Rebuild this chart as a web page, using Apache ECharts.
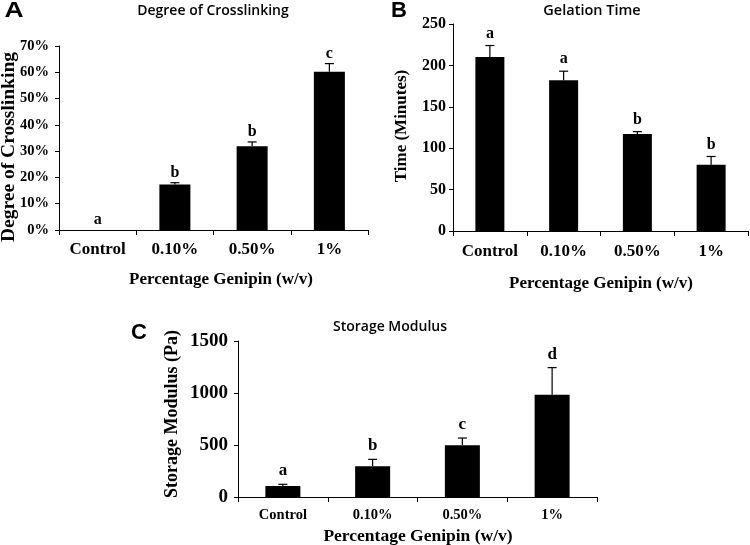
<!DOCTYPE html>
<html>
<head>
<meta charset="utf-8">
<script src="https://cdn.jsdelivr.net/npm/echarts@6/dist/echarts.min.js"></script>
<style>
html,body{margin:0;padding:0;background:#fff;}
#c{width:750px;height:545px;}
</style>
</head>
<body>
<div id="c"></div>
<script>
// ---- Data ----
const categories = ['Control', '0.10%', '0.50%', '1%'];

const crosslinkValues = [0, 17.3, 31.9, 60.2];
const crosslinkErrors = [0, 0.7, 1.6, 3.1];
const crosslinkLetters = ['a', 'b', 'b', 'c'];
const crosslinkTicks = { min: 0, max: 70, interval: 10 };

const gelationValues = [210, 182, 117, 80];
const gelationErrors = [14, 11, 3, 10];
const gelationLetters = ['a', 'a', 'b', 'b'];
const gelationTicks = { min: 0, max: 250, interval: 50 };

const modulusValues = [106, 295, 497, 984];
const modulusErrors = [16, 67, 70, 260];
const modulusLetters = ['a', 'b', 'c', 'd'];
const modulusTicks = { min: 0, max: 1500, interval: 500 };

// ---- Chart ----
const SERIF = '"Liberation Serif", "Times New Roman", serif';
const SANS = '"Open Sans", "Noto Sans", sans-serif';
const chart = echarts.init(document.getElementById('c'), null, { renderer: 'canvas' });

const grids = [
  { left: 59, top: 46, width: 309, height: 184 },
  { left: 453, top: 24, width: 295, height: 207 },
  { left: 238, top: 341, width: 359, height: 156 }
];

const panelCfg = [
  { vals: crosslinkValues, errs: crosslinkErrors, letters: crosslinkLetters, ticks: crosslinkTicks,
    fmt: (v) => v + '%', yFont: 14.5, yMargin: 10, xFont: 17, xMargin: 11, barW: 31, letterFont: 16, letterDist: 2 },
  { vals: gelationValues, errs: gelationErrors, letters: gelationLetters, ticks: gelationTicks,
    fmt: (v) => String(v), yFont: 16, yMargin: 7, xFont: 17, xMargin: 12, barW: 29, letterFont: 16, letterDist: 4 },
  { vals: modulusValues, errs: modulusErrors, letters: modulusLetters, ticks: modulusTicks,
    fmt: (v) => String(v), yFont: 19, yMargin: 10, xFont: 14.5, xMargin: 11, barW: 35, letterFont: 17, letterDist: 5 }
];

const xAxes = [], yAxes = [], series = [];
panelCfg.forEach((p, i) => {
  xAxes.push({
    type: 'category', gridIndex: i, data: categories, boundaryGap: true,
    axisLine: { lineStyle: { color: '#000', width: 1 } },
    axisTick: { show: true, length: 5, lineStyle: { color: '#000' } },
    axisLabel: { color: '#000', fontFamily: SERIF, fontWeight: 'bold', fontSize: p.xFont, margin: p.xMargin },
    splitLine: { show: false }
  });
  yAxes.push({
    type: 'value', gridIndex: i, min: p.ticks.min, max: p.ticks.max, interval: p.ticks.interval,
    axisLine: { show: true, lineStyle: { color: '#000', width: 1 } },
    axisTick: { show: true, length: 4, lineStyle: { color: '#000' } },
    axisLabel: { color: '#000', fontFamily: SERIF, fontWeight: 'bold', fontSize: p.yFont, margin: p.yMargin, formatter: p.fmt },
    splitLine: { show: false }
  });
  series.push({
    type: 'bar', xAxisIndex: i, yAxisIndex: i, data: p.vals, barWidth: p.barW,
    itemStyle: { color: '#000' }, silent: true, animation: false
  });
  series.push({
    type: 'custom', xAxisIndex: i, yAxisIndex: i, animation: false, silent: true,
    data: p.vals.map((v, k) => [k, v, v + p.errs[k]]),
    renderItem: function (params, api) {
      const base = api.coord([api.value(0), api.value(1)]);
      const top = api.coord([api.value(0), api.value(2)]);
      if (Math.abs(base[1] - top[1]) < 0.5) return null;
      const half = 4.5;
      return {
        type: 'group',
        children: [
          { type: 'line', shape: { x1: base[0], y1: base[1], x2: top[0], y2: top[1] }, style: { stroke: '#000', lineWidth: 1.2 } },
          { type: 'line', shape: { x1: top[0] - half, y1: top[1], x2: top[0] + half, y2: top[1] }, style: { stroke: '#000', lineWidth: 1.2 } }
        ]
      };
    }
  });
  series.push({
    type: 'scatter', xAxisIndex: i, yAxisIndex: i, animation: false, silent: true,
    symbolSize: 0,
    data: p.vals.map((v, k) => ({ value: [k, v + p.errs[k]], name: p.letters[k] })),
    label: {
      show: true, position: 'top', distance: p.letterDist,
      formatter: (d) => d.name,
      color: '#000', opacity: 1, fontFamily: SERIF, fontWeight: 'bold', fontSize: p.letterFont
    }
  });
});

function txt(x, y, text, font, extra) {
  return Object.assign({
    type: 'text', x: x, y: y, silent: true,
    style: { text: text, font: font, fill: '#000', align: 'center', verticalAlign: 'middle' }
  }, extra || {});
}

const graphics = [
  // panel letters
  txt(14, 11, 'A', 'bold 22px "Liberation Sans", Arial, sans-serif', { scaleX: 1.2 }),
  txt(399, 11, 'B', 'bold 22px "Liberation Sans", Arial, sans-serif'),
  txt(139, 333, 'C', 'bold 22px "Liberation Sans", Arial, sans-serif'),
  // titles
  txt(213, 11, 'Degree of Crosslinking', '600 14px ' + SANS),
  txt(592, 11, 'Gelation Time', '600 14.5px ' + SANS),
  txt(390, 327, 'Storage Modulus', '600 14px ' + SANS),
  // x axis titles
  txt(221, 280, 'Percentage Genipin (w/v)', 'bold 17px ' + SERIF),
  txt(601, 284, 'Percentage Genipin (w/v)', 'bold 17px ' + SERIF),
  txt(418, 536, 'Percentage Genipin (w/v)', 'bold 17.5px ' + SERIF),
  // y axis titles
  txt(9, 147, 'Degree of Crosslinking', 'bold 19.5px ' + SERIF, { rotation: Math.PI / 2 }),
  txt(402, 126, 'Time (Minutes)', 'bold 17px ' + SERIF, { rotation: Math.PI / 2 }),
  txt(172, 414, 'Storage Modulus (Pa)', 'bold 18px ' + SERIF, { rotation: Math.PI / 2 })
];

chart.setOption({
  backgroundColor: '#fff',
  animation: false,
  grid: grids,
  xAxis: xAxes,
  yAxis: yAxes,
  series: series,
  graphic: graphics
});
</script>
</body>
</html>
